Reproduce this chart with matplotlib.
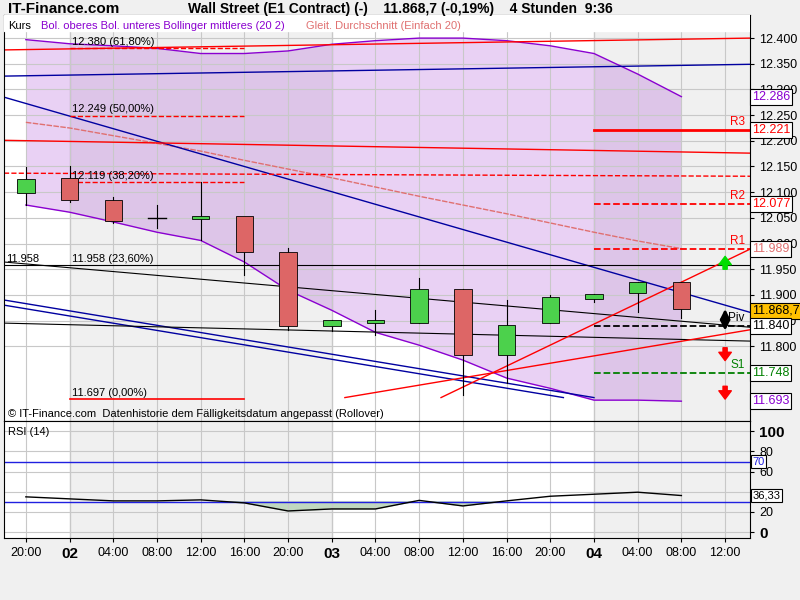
import numpy as np
import matplotlib.pyplot as plt
from matplotlib.patches import Rectangle

# Kerzen (4 Stunden)
opens  = [12.098, 12.127, 12.084, 12.049, 12.047, 12.053, 11.983, 11.839, 11.845, 11.845, 11.911, 11.782, 11.845, 11.891, 11.903, 11.925]
closes = [12.125, 12.084, 12.044, 12.049, 12.053, 11.983, 11.839, 11.851, 11.851, 11.911, 11.782, 11.841, 11.896, 11.902, 11.925, 11.872]
highs  = [12.149, 12.151, 12.090, 12.075, 12.120, 11.990, 11.991, 11.851, 11.870, 11.932, 11.911, 11.890, 11.900, 11.902, 11.925, 11.925]
lows   = [12.075, 12.080, 12.040, 12.030, 12.006, 11.938, 11.831, 11.830, 11.821, 11.845, 11.705, 11.728, 11.845, 11.886, 11.866, 11.855]

boll_up  = [12.397, 12.389, 12.385, 12.380, 12.370, 12.370, 12.375, 12.388, 12.395, 12.400, 12.400, 12.395, 12.385, 12.370, 12.330, 12.286]
boll_low = [12.075, 12.061, 12.042, 12.022, 12.006, 11.964, 11.909, 11.870, 11.827, 11.802, 11.773, 11.738, 11.718, 11.695, 11.695, 11.693]
sma20    = [12.236, 12.225, 12.210, 12.195, 12.180, 12.162, 12.145, 12.128, 12.110, 12.092, 12.075, 12.058, 12.040, 12.022, 12.005, 11.990]

rsi = [35.0, 33.0, 31.0, 31.0, 32.0, 29.0, 21.0, 23.0, 23.0, 31.5, 26.0, 31.0, 35.6, 37.6, 39.6, 36.3]

tick_labels = ['20:00', '02', '04:00', '08:00', '12:00', '16:00', '20:00', '03', '04:00',
               '08:00', '12:00', '16:00', '20:00', '04', '04:00', '08:00', '12:00']
yticks = [11.80, 11.85, 11.90, 11.95, 12.00, 12.05, 12.10, 12.15, 12.20, 12.25, 12.30, 12.35, 12.40]

# Pivot-Punkte
pivots = [('R3', 12.221, 'red', '-'), ('R2', 12.077, 'red', '--'), ('R1', 11.989, 'red', '--'),
          ('Piv', 11.840, 'black', '--'), ('S1', 11.748, 'green', '--')]
fibs = [('12.380 (61,80%)', 12.380), ('12.249 (50,00%)', 12.249), ('12.119 (38,20%)', 12.119)]

x = np.arange(len(opens))
XL = (-0.5, 16.57)
GRAY = '#f0f0f0'
plt.rcParams['font.family'] = 'Liberation Sans'

fig = plt.figure(figsize=(8, 6), dpi=100, facecolor=GRAY)
ax = fig.add_axes([0.005, 0.298, 0.9325, 0.677])
ax2 = fig.add_axes([0.005, 0.103, 0.9325, 0.195])

for a in (ax, ax2):
    a.set_xlim(*XL)
    a.set_facecolor('white')
    a.axvspan(1, 7, color=GRAY, zorder=0)
    a.axvspan(13, XL[1], color=GRAY, zorder=0)
    a.set_xticks(range(17))
    a.grid(True, color='#c8c8c8', lw=0.8, zorder=0.5)
    for v in (1, 7, 13):
        a.axvline(v, color='#909090', lw=0.8, zorder=0.6)
    a.yaxis.tick_right()
    a.tick_params(length=3, labelsize=9)

ax.set_ylim(11.654, 12.445)
ax.set_yticks(yticks)
ax.set_yticklabels([f'{v:.3f}' for v in yticks])
ax.set_xticklabels([])
ax.axhspan(12.414, 12.445, color='white', zorder=3)

# Bollinger
ax.fill_between(x, boll_low, boll_up, color='#9b30d0', alpha=0.22, zorder=1, lw=0)
ax.plot(x, boll_up, color='#8a00d0', lw=1, zorder=2)
ax.plot(x, boll_low, color='#8a00d0', lw=1, zorder=2)
ax.plot(x, sma20, color='#e07070', lw=1, ls=(0, (4, 1)), zorder=2)

# Trendlinien
ax.plot(XL, [12.326, 12.349], color='#0000a0', lw=1, zorder=2)
ax.plot(XL, [12.285, 11.866], color='#0000a0', lw=1, zorder=2)
ax.plot([XL[0], 13.0], [11.890, 11.700], color='#0000a0', lw=1, zorder=2)
ax.plot([XL[0], 12.3], [11.880, 11.700], color='#0000a0', lw=1, zorder=2)
ax.plot(XL, [12.377, 12.400], color='red', lw=1, zorder=2)
ax.plot(XL, [12.201, 12.176], color='red', lw=1, zorder=2)
ax.plot(XL, [12.137, 12.131], color='red', lw=1, ls='--', zorder=2)
ax.plot(XL, [11.958, 11.958], color='black', lw=0.8, zorder=2)
ax.plot(XL, [11.964, 11.837], color='black', lw=0.8, zorder=2)
ax.plot(XL, [11.845, 11.810], color='black', lw=0.8, zorder=2)
ax.plot([7.3, XL[1]], [11.700, 11.832], color='red', lw=1, zorder=2)
ax.plot([9.5, XL[1]], [11.700, 11.989], color='red', lw=1, zorder=2)

# Fibonacci
for lab, v in fibs:
    ax.plot([1, 5], [v, v], color='red', lw=1, ls='--', zorder=2)
    ax.text(1.05, v + 0.003, lab, fontsize=8, va='bottom', zorder=4)
ax.text(1.05, 11.961, '11.958 (23,60%)', fontsize=8, va='bottom', zorder=4)
ax.text(-0.45, 11.961, '11.958', fontsize=8, va='bottom', zorder=4)
ax.plot([1, 5], [11.697, 11.697], color='red', lw=1.2, zorder=2)
ax.text(1.05, 11.700, '11.697 (0,00%)', fontsize=8, va='bottom', zorder=4)

# Kerzen
for i in range(len(opens)):
    o, c = opens[i], closes[i]
    col = '#4cd14c' if c >= o else '#dd6666'
    ax.plot([i, i], [lows[i], highs[i]], color='black', lw=0.8, zorder=3)
    h = abs(c - o)
    if h < 0.002:
        ax.plot([i - 0.2, i + 0.2], [o, o], color='black', lw=1, zorder=4)
    else:
        ax.add_patch(Rectangle((i - 0.2, min(o, c)), 0.4, h, facecolor=col,
                               edgecolor='black', lw=0.6, zorder=4))

# Pivots
for lab, v, col, ls in pivots:
    lw = 2 if lab == 'R3' else 1.3
    ax.plot([13, XL[1]], [v, v], color=col, lw=lw, ls=ls, zorder=3)
    ax.text(16.45, v + 0.004, lab, color=col, fontsize=8.5, ha='right', va='bottom', zorder=4)

ax.annotate('', xy=(16, 11.975), xytext=(16, 11.950),
            arrowprops=dict(color='#00dd00', width=3, headwidth=9, headlength=6), zorder=5)
ax.annotate('', xy=(16, 11.878), xytext=(16, 11.825),
            arrowprops=dict(arrowstyle='<|-|>', color='black', lw=2, mutation_scale=14), zorder=5)
ax.annotate('', xy=(16, 11.772), xytext=(16, 11.797),
            arrowprops=dict(color='red', width=3, headwidth=9, headlength=6), zorder=5)
ax.annotate('', xy=(16, 11.697), xytext=(16, 11.722),
            arrowprops=dict(color='red', width=3, headwidth=9, headlength=6), zorder=5)

# Wertboxen rechts
boxes = [(12.286, '12.286', '#8a00d0', 'white'), (12.221, '12.221', 'red', 'white'),
         (12.077, '12.077', 'red', 'white'), (11.989, '11.989', '#e07070', 'white'),
         (11.8687, '11.868,7', 'black', '#ffc000'), (11.840, '11.840', 'black', 'white'),
         (11.748, '11.748', 'green', 'white'), (11.693, '11.693', '#8a00d0', 'white')]
for v, t, col, bg in boxes:
    ax.text(1.003, v, t, transform=ax.get_yaxis_transform(), color=col, fontsize=9,
            va='center', ha='left', clip_on=False, zorder=6,
            bbox=dict(boxstyle='square,pad=0.15', fc=bg, ec='black', lw=0.8))

ax.text(0.005, 0.985, 'Kurs', transform=ax.transAxes, fontsize=8, va='top', zorder=5)
ax.text(0.05, 0.985, 'Bol. oberes Bol. unteres Bollinger mittleres (20 2)', transform=ax.transAxes,
        fontsize=8, va='top', color='#8a00d0', zorder=5)
ax.text(0.405, 0.985, 'Gleit. Durchschnitt (Einfach 20)', transform=ax.transAxes,
        fontsize=8, va='top', color='#e07070', zorder=5)
ax.text(0.005, 0.005, '© IT-Finance.com  Datenhistorie dem Fälligkeitsdatum angepasst (Rollover)',
        transform=ax.transAxes, fontsize=8, va='bottom', zorder=5)

# RSI
ax2.set_ylim(-6, 110)
ax2.set_yticks([0, 20, 40, 60, 80, 100])
ax2.set_yticklabels(['0', '20', '', '60', '80', '100'])
for lbl in ax2.get_yticklabels():
    if lbl.get_text() in ('0', '100'):
        lbl.set_fontweight('bold')
        lbl.set_fontsize(11)
ax2.set_xticklabels(tick_labels)
for lbl, t in zip(ax2.get_xticklabels(), tick_labels):
    if ':' not in t:
        lbl.set_fontweight('bold')
        lbl.set_fontsize(11)
ax2.axhline(70, color='#2020e0', lw=1)
ax2.axhline(30, color='#2020e0', lw=1)
ax2.plot(x, rsi, color='black', lw=1)
r = np.array(rsi)
ax2.fill_between(x, r, 30, where=r < 30, interpolate=True, color='#c0d8c0')
ax2.text(0.005, 0.95, 'RSI (14)', transform=ax2.transAxes, fontsize=8, va='top')
ax2.text(1.003, 70, '70', transform=ax2.get_yaxis_transform(), color='#2020e0', fontsize=8,
         va='center', bbox=dict(boxstyle='square,pad=0.15', fc='white', ec='black', lw=0.8))
ax2.text(1.003, 36.3, '36,33', transform=ax2.get_yaxis_transform(), fontsize=8,
         va='center', bbox=dict(boxstyle='square,pad=0.15', fc='white', ec='black', lw=0.8))

fig.text(0.01, 0.997, 'IT-Finance.com', fontsize=11, fontweight='bold', va='top')
fig.text(0.5, 0.997, 'Wall Street (E1 Contract) (-)    11.868,7 (-0,19%)    4 Stunden  9:36',
         fontsize=10, fontweight='bold', va='top', ha='center')

fig.savefig('out.png', dpi=100, facecolor=GRAY)
